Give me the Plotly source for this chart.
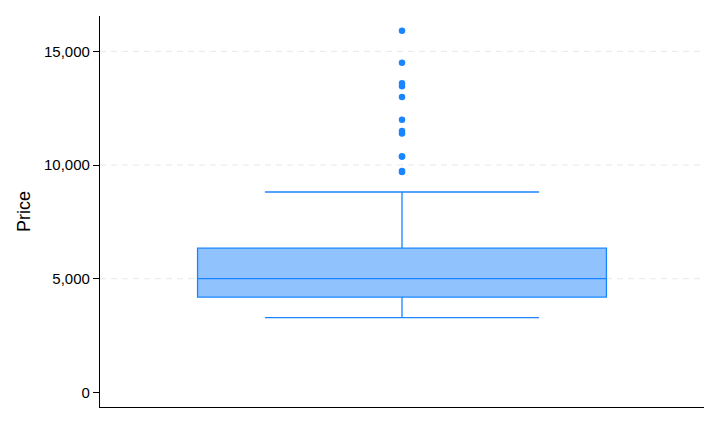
import plotly.graph_objects as go

# box summary for Price
q1 = [4195]
median = [5006.5]
q3 = [6342]
lower_whisker = [3291]
upper_whisker = [8814]
outliers = [9690, 9735, 10371, 10372, 11385, 11497, 11995, 12990, 13466, 13594, 14500, 15906]
ytick_vals = [0, 5000, 10000, 15000]
ytick_text = ["0", "5,000", "10,000", "15,000"]

line_col = "#1A85FF"
fill_col = "#90C3FD"
cap_half = 0.454

fig = go.Figure()

# dashed gridlines at the tick values (none at zero)
for v in ytick_vals[1:]:
    fig.add_hline(y=v, line=dict(color="#E8E8E8", width=1, dash="6px,5px"), layer="below")

fig.add_trace(go.Box(
    x=[0],
    q1=q1, median=median, q3=q3,
    lowerfence=lower_whisker, upperfence=upper_whisker,
    width=1.354,
    fillcolor=fill_col,
    line=dict(color=line_col, width=1.3),
    whiskerwidth=0,
    boxpoints=False,
    showlegend=False,
    hoverinfo="y",
))

# whisker caps
for w in (lower_whisker[0], upper_whisker[0]):
    fig.add_trace(go.Scatter(
        x=[-cap_half, cap_half], y=[w, w], mode="lines",
        line=dict(color=line_col, width=1.3), showlegend=False, hoverinfo="skip",
    ))

fig.add_trace(go.Scatter(
    x=[0] * len(outliers), y=outliers, mode="markers",
    marker=dict(color=line_col, size=6.5),
    showlegend=False,
))

fig.update_layout(
    width=720, height=432,
    margin=dict(l=92, r=24, t=8, b=33),
    paper_bgcolor="white", plot_bgcolor="white",
    font=dict(family="Liberation Sans, Arial, sans-serif", size=15, color="black"),
    xaxis=dict(range=[-1, 1], showgrid=False, zeroline=False, showticklabels=False,
               showline=True, linecolor="black", linewidth=1.3, ticks=""),
    yaxis=dict(range=[-640, 16553], tickvals=ytick_vals, ticktext=ytick_text,
               showgrid=False, zeroline=False, showline=True, linecolor="black",
               linewidth=1.3, ticks="outside", ticklen=6, tickcolor="black",
               title=dict(text="Price", standoff=8)),
)

fig.write_html("out.html")
